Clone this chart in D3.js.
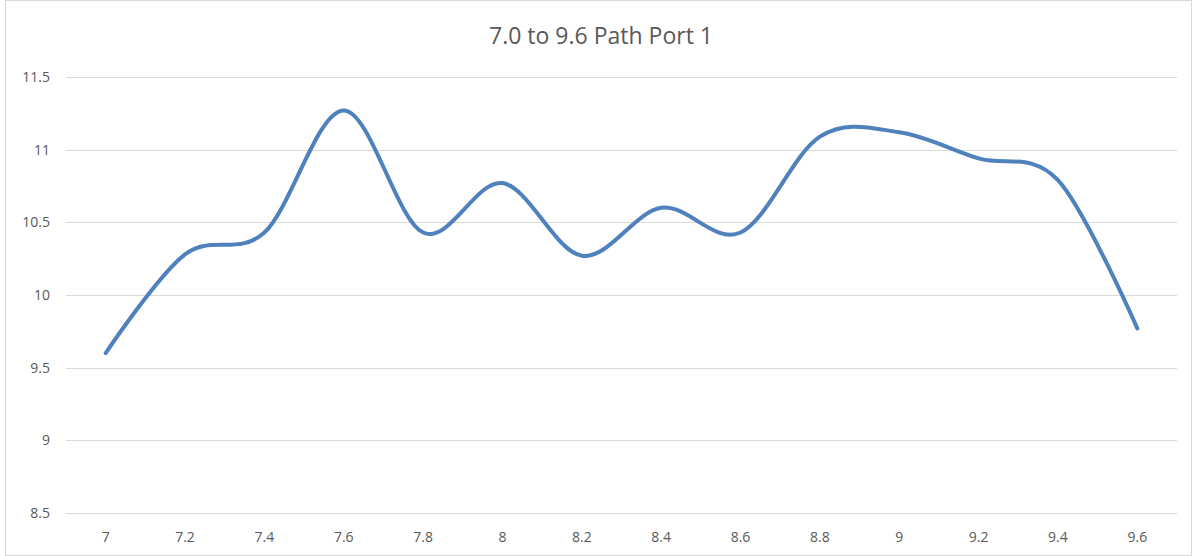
<!DOCTYPE html>
<html>
<head>
<meta charset="utf-8">
<script src="https://cdn.jsdelivr.net/npm/d3@7"></script>
<style>
  body { margin: 0; background: #fff; }
  svg text { font-family: "Open Sans", "Noto Sans", sans-serif; fill: #595959; }
</style>
</head>
<body>
<div id="chart"></div>
<script>
// frequency categories and measured values
const xLabels = ["7", "7.2", "7.4", "7.6", "7.8", "8", "8.2", "8.4", "8.6", "8.8", "9", "9.2", "9.4", "9.6"];
const yValues = [9.60, 10.28, 10.43, 11.27, 10.43, 10.77, 10.27, 10.60, 10.43, 11.09, 11.12, 10.94, 10.79, 9.77];
const yTicks = [8.5, 9, 9.5, 10, 10.5, 11, 11.5];
const title = "7.0 to 9.6 Path Port 1";

const width = 1193, height = 556;
const margin = { top: 77, right: 16, bottom: 43, left: 66 };

const svg = d3.select("#chart")
    .append("svg")
    .attr("width", width)
    .attr("height", height);

// chart border
svg.append("rect")
    .attr("x", 5.5).attr("y", 0.5)
    .attr("width", width - 7).attr("height", height - 1)
    .attr("fill", "none")
    .attr("stroke", "#d9d9d9");

const x = d3.scalePoint()
    .domain(xLabels)
    .range([margin.left, width - margin.right])
    .padding(0.5);

const y = d3.scaleLinear()
    .domain([8.5, 11.5])
    .range([height - margin.bottom, margin.top]);

// gridlines
svg.append("g")
    .selectAll("line")
    .data(yTicks)
    .enter()
    .append("line")
    .attr("x1", margin.left)
    .attr("x2", width - margin.right)
    .attr("y1", d => Math.round(y(d)) + 0.5)
    .attr("y2", d => Math.round(y(d)) + 0.5)
    .attr("stroke", "#d9d9d9")
    .attr("stroke-width", 1);

// y labels
svg.append("g")
    .selectAll("text")
    .data(yTicks)
    .enter()
    .append("text")
    .attr("x", 50)
    .attr("y", d => y(d))
    .attr("dy", "0.35em")
    .attr("text-anchor", "end")
    .attr("font-size", 14)
    .text(d => d);

// x labels
svg.append("g")
    .selectAll("text")
    .data(xLabels)
    .enter()
    .append("text")
    .attr("x", d => x(d))
    .attr("y", 537)
    .attr("dy", "0.35em")
    .attr("text-anchor", "middle")
    .attr("font-size", 14)
    .text(d => d);

// smoothed line
const line = d3.line()
    .x((d, i) => x(xLabels[i]))
    .y(d => y(d))
    .curve(d3.curveCardinal.tension(0));

svg.append("path")
    .datum(yValues)
    .attr("d", line)
    .attr("fill", "none")
    .attr("stroke", "#4f81bd")
    .attr("stroke-width", 4)
    .attr("stroke-linecap", "round")
    .attr("stroke-linejoin", "round");

// title
svg.append("text")
    .attr("x", 601)
    .attr("y", 44)
    .attr("text-anchor", "middle")
    .attr("font-size", 23)
    .text(title);
</script>
</body>
</html>
